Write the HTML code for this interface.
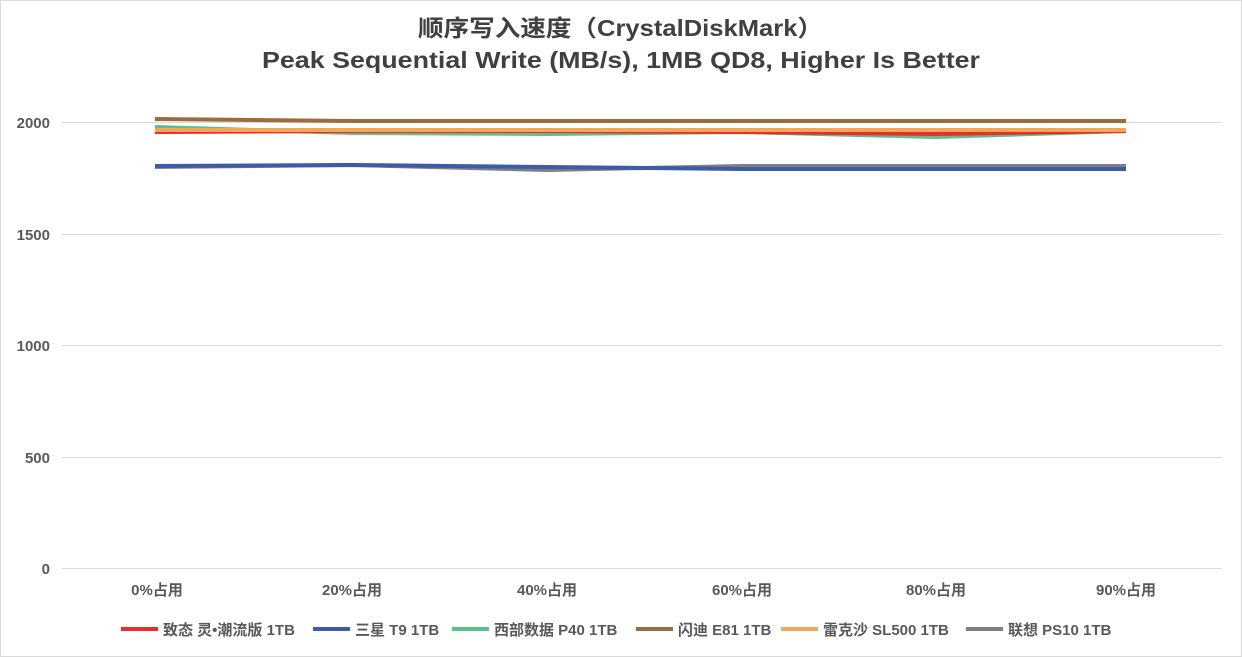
<!DOCTYPE html>
<html><head><meta charset="utf-8"><style>
body{margin:0;background:#fff;}
svg{display:block;font-family:"Liberation Sans","Noto Sans CJK SC",sans-serif;}
</style></head><body>
<svg width="1242" height="657" viewBox="0 0 1242 657">
<rect x="0.5" y="0.5" width="1241" height="656" fill="#fff" stroke="#d9d9d9"/>
<text x="418" y="36" font-size="23" font-weight="bold" fill="#404040" textLength="405" lengthAdjust="spacingAndGlyphs">顺序写入速度（CrystalDiskMark）</text>
<text x="262" y="68" font-size="23" font-weight="bold" fill="#404040" textLength="718" lengthAdjust="spacingAndGlyphs">Peak Sequential Write (MB/s), 1MB QD8, Higher Is Better</text>
<g stroke="#d9d9d9" stroke-width="1">
<line x1="62" y1="122.5" x2="1222" y2="122.5"/><line x1="62" y1="234.5" x2="1222" y2="234.5"/>
<line x1="62" y1="345.5" x2="1222" y2="345.5"/><line x1="62" y1="457.5" x2="1222" y2="457.5"/>
<line x1="62" y1="568.5" x2="1222" y2="568.5"/></g>
<g font-size="15" font-weight="bold" fill="#595959" text-anchor="end">
<text x="50" y="128">2000</text><text x="50" y="240">1500</text><text x="50" y="351">1000</text><text x="50" y="463">500</text><text x="50" y="574">0</text></g>
<g font-size="15" font-weight="bold" fill="#595959" text-anchor="middle">
<text x="157" y="595">0%占用</text><text x="352" y="595">20%占用</text><text x="547" y="595">40%占用</text><text x="742" y="595">60%占用</text><text x="936" y="595">80%占用</text><text x="1126" y="595">90%占用</text></g>
<g fill="none" stroke-width="4" stroke-linejoin="round">
<polyline stroke="#7f7f7f" points="155,167 352,165 547,170 742,166 936,166 1126,166"/>
<polyline stroke="#3f5aa8" points="155,166 352,165 547,167 742,169 936,169 1126,169"/>
<polyline stroke="#5cc08a" points="155,127 352,133 547,134 742,132 936,137 1126,131"/>
<polyline stroke="#e62e2e" points="155,132 352,131 547,131 742,132 936,134 1126,131"/>
<polyline stroke="#f5a55a" points="155,130 352,130 547,130 742,130 936,130 1126,130"/>
<polyline stroke="#9c6b3e" points="155,119 352,121 547,121 742,121 936,121 1126,121"/>
</g>
<g font-size="15" font-weight="bold" fill="#595959">
<line x1="121" y1="629" x2="158" y2="629" stroke="#e62e2e" stroke-width="4"/><text x="163" y="635">致态 灵•潮流版 1TB</text>
<line x1="313" y1="629" x2="350" y2="629" stroke="#3f5aa8" stroke-width="4"/><text x="355" y="635">三星 T9 1TB</text>
<line x1="452" y1="629" x2="489" y2="629" stroke="#5cc08a" stroke-width="4"/><text x="494" y="635">西部数据 P40 1TB</text>
<line x1="636" y1="629" x2="673" y2="629" stroke="#9c6b3e" stroke-width="4"/><text x="678" y="635">闪迪 E81 1TB</text>
<line x1="781" y1="629" x2="818" y2="629" stroke="#f5a55a" stroke-width="4"/><text x="823" y="635">雷克沙 SL500 1TB</text>
<line x1="966" y1="629" x2="1003" y2="629" stroke="#7f7f7f" stroke-width="4"/><text x="1008" y="635">联想 PS10 1TB</text>
</g>
</svg>
</body></html>
